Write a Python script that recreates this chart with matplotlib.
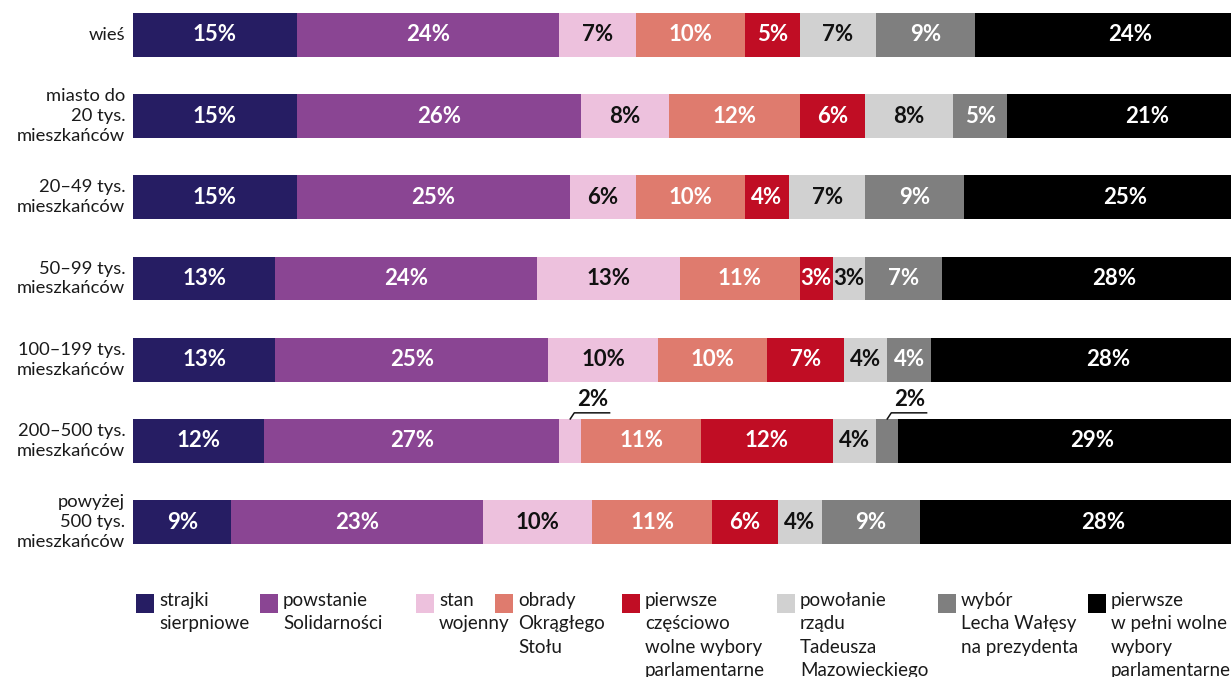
import numpy as np
import matplotlib.pyplot as plt
from matplotlib.patches import Rectangle

plt.rcParams['font.family'] = ['Lato', 'DejaVu Sans']

# Data
rows = ['wieś', 'miasto do\n20 tys.\nmieszkańców', '20–49 tys.\nmieszkańców',
        '50–99 tys.\nmieszkańców', '100–199 tys.\nmieszkańców',
        '200–500 tys.\nmieszkańców', 'powyżej\n500 tys.\nmieszkańców']
events = ['strajki\nsierpniowe', 'powstanie\nSolidarności', 'stan\nwojenny',
          'obrady\nOkrągłego\nStołu', 'pierwsze\nczęściowo\nwolne wybory\nparlamentarne',
          'powołanie\nrządu\nTadeusza\nMazowieckiego', 'wybór\nLecha Wałęsy\nna prezydenta',
          'pierwsze\nw pełni wolne\nwybory\nparlamentarne']
strajki = [15, 15, 15, 13, 13, 12, 9]
powstanie = [24, 26, 25, 24, 25, 27, 23]
stan = [7, 8, 6, 13, 10, 2, 10]
obrady = [10, 12, 10, 11, 10, 11, 11]
czesciowo = [5, 6, 4, 3, 7, 12, 6]
mazowiecki = [7, 8, 7, 3, 4, 4, 4]
walesa = [9, 5, 9, 7, 4, 2, 9]
wolne = [24, 21, 25, 28, 28, 29, 28]
series = [strajki, powstanie, stan, obrady, czesciowo, mazowiecki, walesa, wolne]

colors = ['#261d63', '#8a4593', '#edc1dd', '#df7b6e', '#c00d24', '#d1d1d1', '#7f7f7f', '#000000']
text_colors = ['white', 'white', '#111111', 'white', 'white', '#111111', 'white', 'white']

W, H = 1231, 677
fig = plt.figure(figsize=(W / 100, H / 100), dpi=100)
ax = fig.add_axes([133 / W, 122.5 / H, 1 - 133 / W, 552 / H])

bar_end = 105.5  # the last band runs past the right edge of the picture
y = np.arange(len(rows))
left = np.zeros(len(rows))
for s, vals in enumerate(series):
    vals = np.array(vals, dtype=float)
    last = s == len(series) - 1
    widths = bar_end - left if last else vals
    ax.barh(y, widths, left=left, height=0.54, color=colors[s], linewidth=0)
    for i, v in enumerate(vals):
        cx = left[i] + widths[i] / 2
        if v <= 2:
            # small slices: underlined label above the bar with a leader line
            ax.text(cx + 2.1, y[i] - 0.375, f'{int(v)}%', ha='center', va='bottom',
                    fontsize=16, fontweight='bold', color='#111111')
            ax.plot([cx, cx + 0.37, cx + 3.6], [y[i] - 0.27, y[i] - 0.345, y[i] - 0.345],
                    color='#111111', lw=1.1, clip_on=False)
        else:
            ax.text(cx, y[i], f'{int(v)}%', ha='center', va='center',
                    fontsize=16, fontweight='bold', color=text_colors[s])
    left += vals

ax.set_xlim(0, 100.45)
ax.set_ylim(6.4, -0.4)
ax.axis('off')

for i, r in enumerate(rows):
    ax.text(-0.7, y[i], r, ha='right', va='center', fontsize=13.2,
            color='#1a1a1a', linespacing=1.3)

# Legend
leg_x = [136, 260, 416, 495, 622, 777, 938, 1088]
for k, lab in enumerate(events):
    x0 = leg_x[k]
    fig.add_artist(Rectangle((x0 / W, 1 - 613 / H), 18 / W, 19 / H,
                             transform=fig.transFigure, color=colors[k], lw=0))
    fig.text((x0 + 23) / W, 1 - 592 / H, lab, ha='left', va='top', fontsize=13.5,
             color='#1a1a1a', linespacing=1.45)

fig.savefig('out.png', dpi=100)
